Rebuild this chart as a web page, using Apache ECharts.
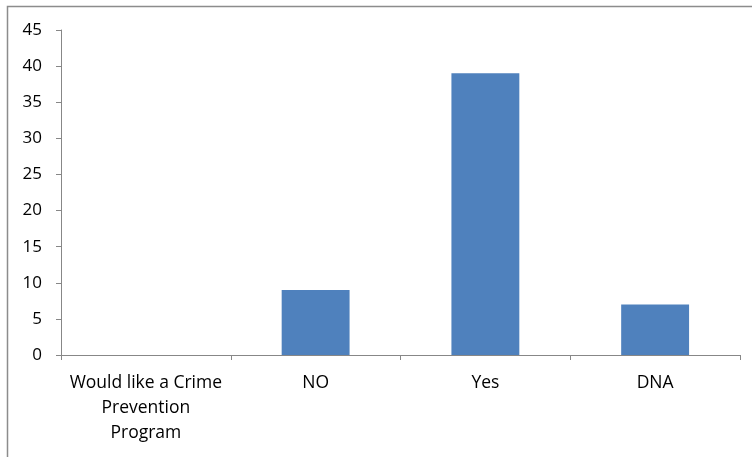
<!DOCTYPE html>
<html><head><meta charset="utf-8">
<script src="https://cdn.jsdelivr.net/npm/echarts@6/dist/echarts.min.js"></script>
<style>html,body{margin:0;padding:0;background:#fff}#c{width:752px;height:457px}</style>
</head><body><div id="c"></div>
<script>
const categories = ["Would like a Crime\nPrevention\nProgram", "NO", "Yes", "DNA"];
const values = [0, 9, 39, 7];
const yTicks = [0, 5, 10, 15, 20, 25, 30, 35, 40, 45];

const chart = echarts.init(document.getElementById('c'), null, {renderer: 'canvas'});
const font = '"Open Sans", "Liberation Sans", sans-serif';
chart.setOption({
  animation: false,
  graphic: [{
    type: 'rect', shape: {x: 7.5, y: 6.5, width: 800, height: 500},
    style: {fill: 'none', stroke: '#8c8c8c', lineWidth: 1.5}, z: 100
  }],
  grid: {left: 61, right: 12, top: 30, bottom: 102, containLabel: false},
  xAxis: {
    type: 'category', data: categories,
    axisLine: {lineStyle: {color: '#878787', width: 1}},
    axisTick: {show: true, length: 5, lineStyle: {color: '#878787'}},
    axisLabel: {color: '#000', fontFamily: font, fontSize: 17.5, lineHeight: 25, margin: 16, interval: 0}
  },
  yAxis: {
    type: 'value', min: 0, max: 45, interval: 5,
    splitLine: {show: false},
    axisLine: {show: true, lineStyle: {color: '#878787', width: 1}},
    axisTick: {show: true, length: 5, lineStyle: {color: '#878787'}},
    axisLabel: {color: '#000', fontFamily: font, fontSize: 17, margin: 19,
      formatter: v => yTicks.includes(v) ? String(v) : ''}
  },
  series: [{
    type: 'bar', data: values, barWidth: '40%',
    itemStyle: {color: '#4f81bd'}
  }]
});
</script></body></html>
